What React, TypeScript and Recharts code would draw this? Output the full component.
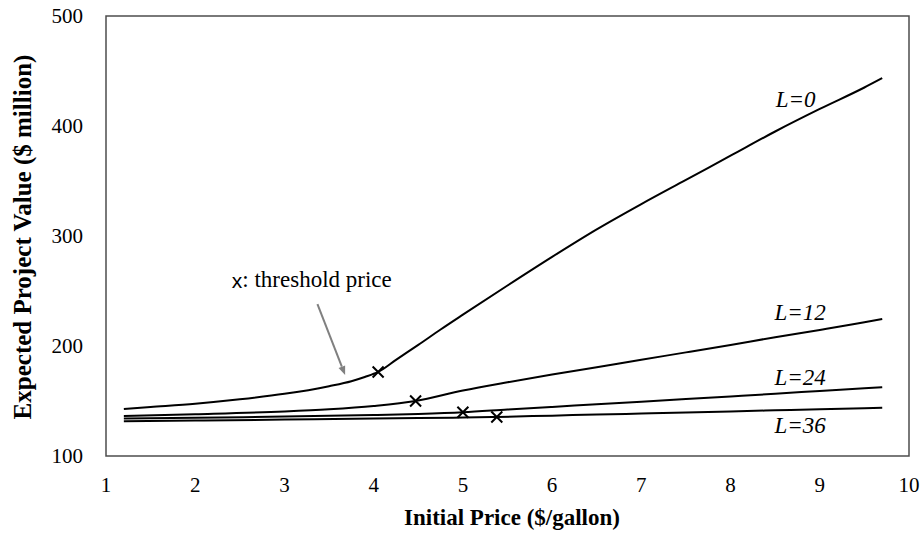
import React from 'react';
import { ComposedChart, Line, Scatter, XAxis, YAxis, ReferenceArea, ReferenceDot, ReferenceLine, Label } from 'recharts';

const SERIF = "'Liberation Serif', 'Times New Roman', serif";

// initial price ($/gallon) and expected project value ($ million) for each lag L
const priceL0 = [1.2, 1.5, 2.0, 2.5, 3.0, 3.5, 3.75, 3.9, 4.05, 4.25, 4.5, 4.75, 5.0, 5.5, 6.0, 6.5, 7.0, 7.5, 8.0, 8.5, 9.0, 9.5, 9.7];
const valueL0 = [142.7, 144.5, 147.5, 151.5, 156.5, 163.5, 168, 171.8, 176.4, 187.4, 201, 215, 228.5, 255, 281, 306, 329, 351, 373, 395, 415.5, 435, 443.5];

const priceL12 = [1.2, 2.0, 3.0, 3.5, 4.0, 4.47, 5.0, 5.5, 6.0, 6.5, 7.0, 7.5, 8.0, 8.5, 9.0, 9.5, 9.7];
const valueL12 = [136.4, 138, 140.5, 142.5, 145.5, 150, 159.5, 167, 174, 180.7, 187.5, 194.2, 201, 208, 214.6, 221.5, 224.5];

const priceL24 = [1.2, 2.0, 3.0, 4.0, 4.5, 5.0, 5.5, 6.0, 6.5, 7.0, 7.5, 8.0, 8.5, 9.0, 9.5, 9.7];
const valueL24 = [134, 134.8, 135.8, 137.2, 138.2, 139.7, 142.2, 144.6, 147, 149.4, 151.8, 154.2, 156.6, 159.1, 161.5, 162.5];

const priceL36 = [1.2, 2.0, 3.0, 4.0, 4.5, 5.0, 5.38, 6.0, 6.5, 7.0, 7.5, 8.0, 8.5, 9.0, 9.5, 9.7];
const valueL36 = [131.5, 132.2, 133.1, 134, 134.5, 135, 135.5, 136.7, 137.7, 138.6, 139.6, 140.5, 141.5, 142.4, 143.4, 143.9];

// threshold prices (x marks)
const thresholdPrice = [4.05, 4.47, 5.0, 5.38];
const thresholdValue = [176.4, 150, 139.7, 135.5];

const xTicks = [1, 2, 3, 4, 5, 6, 7, 8, 9, 10];
const yTicks = [100, 200, 300, 400, 500];

const curveLabels = ['L=0', 'L=12', 'L=24', 'L=36'];
const labelX = [8.73, 8.78, 8.78, 8.78];
const labelY = [425, 231, 172, 128];

const toRows = (xs: number[], vs: number[]) => xs.map((x, i) => ({ x, v: vs[i] }));

const seriesL0 = toRows(priceL0, valueL0);
const seriesL12 = toRows(priceL12, valueL12);
const seriesL24 = toRows(priceL24, valueL24);
const seriesL36 = toRows(priceL36, valueL36);
const thresholds = toRows(thresholdPrice, thresholdValue);

const Cross = (props: any) => {
  const { cx, cy } = props;
  const s = 5.5;
  return (
    <path
      d={`M${cx - s},${cy - s}L${cx + s},${cy + s}M${cx + s},${cy - s}L${cx - s},${cy + s}`}
      stroke='#000'
      strokeWidth={2}
      fill='none'
    />
  );
};

const Arrow = (props: any) => {
  const { x1, y1, x2, y2 } = props;
  const ang = Math.atan2(y2 - y1, x2 - x1);
  const len = 9;
  const w = 3.5;
  const bx = x2 - len * Math.cos(ang);
  const by = y2 - len * Math.sin(ang);
  const px = -Math.sin(ang) * w;
  const py = Math.cos(ang) * w;
  return (
    <g>
      <line x1={x1} y1={y1} x2={bx} y2={by} stroke='#808080' strokeWidth={2} />
      <polygon points={`${x2},${y2} ${bx + px},${by + py} ${bx - px},${by - py}`} fill='#808080' />
    </g>
  );
};

export default function App() {
  return (
    <div style={{ position: 'absolute', left: 0, top: 0, background: '#fff' }}>
      <ComposedChart width={922} height={534} margin={{ top: 16, right: 13, left: 0, bottom: 0 }}>
        <XAxis
          dataKey='x'
          type='number'
          domain={[1, 10]}
          ticks={xTicks}
          tickLine={false}
          axisLine={false}
          tickSize={0}
          tickMargin={21}
          height={78}
          tick={{ fill: '#000', fontSize: 21, fontFamily: SERIF }}
        >
          <Label
            content={() => (
              <text x={512} y={520} textAnchor='middle' dominantBaseline='middle' fontFamily={SERIF} fontWeight='bold' fontSize={23} fill='#000'>
                Initial Price ($/gallon)
              </text>
            )}
          />
        </XAxis>
        <YAxis
          type='number'
          domain={[100, 500]}
          ticks={yTicks}
          tickLine={false}
          axisLine={false}
          tickSize={0}
          tickMargin={23}
          width={106}
          tick={{ fill: '#000', fontSize: 21, fontFamily: SERIF }}
        >
          <Label
            content={() => (
              <text x={25} y={237} transform='rotate(-90 25 237)' textAnchor='middle' dominantBaseline='middle' fontFamily={SERIF} fontWeight='bold' fontSize={25} fill='#000'>
                Expected Project Value ($ million)
              </text>
            )}
          />
        </YAxis>
        <ReferenceArea x1={1} x2={10} y1={100} y2={500} fill='none' stroke='#4d4d4d' strokeWidth={1.5} />
        <Line data={seriesL0} dataKey='v' type='monotone' stroke='#000' strokeWidth={2} dot={false} isAnimationActive={false} />
        <Line data={seriesL12} dataKey='v' type='monotone' stroke='#000' strokeWidth={2} dot={false} isAnimationActive={false} />
        <Line data={seriesL24} dataKey='v' type='monotone' stroke='#000' strokeWidth={2} dot={false} isAnimationActive={false} />
        <Line data={seriesL36} dataKey='v' type='monotone' stroke='#000' strokeWidth={2} dot={false} isAnimationActive={false} />
        <Scatter data={thresholds} dataKey='v' shape={<Cross />} isAnimationActive={false} />
        {curveLabels.map((t, i) => (
          <ReferenceDot
            key={t}
            x={labelX[i]}
            y={labelY[i]}
            r={0}
            stroke='none'
            label={{ value: t, position: 'center', fill: '#000', fontSize: 23, fontStyle: 'italic', fontFamily: SERIF }}
          />
        ))}
        <ReferenceLine
          segment={[{ x: 3.37, y: 238 }, { x: 3.68, y: 173.6 }]}
          shape={<Arrow />}
        />
        <ReferenceDot
          x={2.41}
          y={258}
          r={0}
          stroke='none'
          label={{
            position: 'center',
            content: (p: any) => {
              const vb = p.viewBox || {};
              return (
                <text x={vb.x} y={vb.y} dominantBaseline='middle' fontSize={23} fill='#000' fontFamily={SERIF}>
                  <tspan fontFamily="'Liberation Sans', Arial, sans-serif" fontSize={21}>x</tspan>
                  <tspan>: threshold price</tspan>
                </text>
              );
            }
          }}
        />
      </ComposedChart>
    </div>
  );
}
